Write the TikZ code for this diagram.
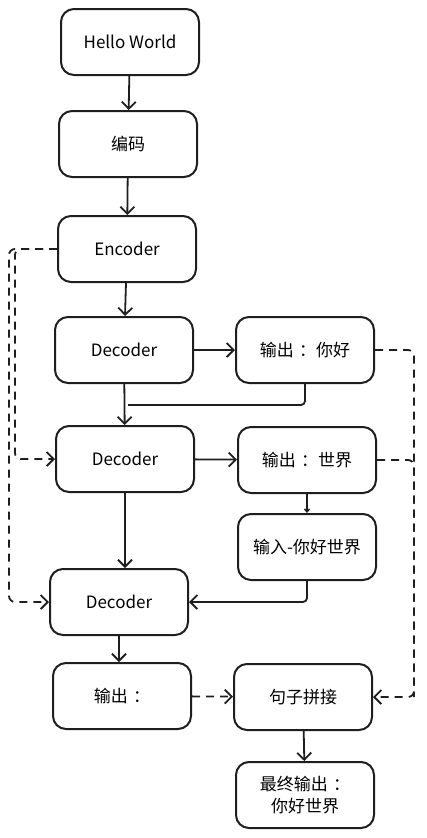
\documentclass[tikz,border=0pt]{standalone}
\usepackage{fontspec}
\setmainfont{Noto Sans CJK SC}
\usepackage{tikz}
\usetikzlibrary{arrows.meta, positioning, calc}
\usepackage{xcolor}
\definecolor{inkline}{HTML}{1E1E1E}

\begin{document}
\begin{tikzpicture}[x=1pt, y=-1pt,
  box/.style={rectangle, rounded corners=13pt, draw=inkline, line width=2pt,
    minimum width=138pt, minimum height=66pt, align=center, font=\fontsize{17}{22}\selectfont},
  arr/.style={draw=inkline, line width=1.8pt, -{Straight Barb[length=7pt, width=14pt, line width=1.8pt]}},
  dasharr/.style={arr, dash pattern=on 8pt off 6pt, rounded corners=6pt},
  dashline/.style={draw=inkline, line width=1.8pt, dash pattern=on 8pt off 6pt, rounded corners=6pt}]
\useasboundingbox (0,0) rectangle (427,838);

\node[box] (hello) at (130,42) {Hello World};
\node[box] (encode) at (128,144) {编码};
\node[box] (encoder) at (127,249) {Encoder};
\node[box] (dec1) at (124,350) {Decoder};
\node[box] (out1) at (305,350) {输出\hspace{0.3em}：你好};
\node[box] (dec2) at (125,459) {Decoder};
\node[box] (out2) at (307,460) {输出\hspace{0.3em}：世界};
\node[box] (input) at (307,547) {输入-你好世界};
\node[box] (dec3) at (119,602) {Decoder};
\node[box] (outA) at (122,696) {输出\hspace{0.3em}：};
\node[box] (concat) at (303,697) {句子拼接};
\node[box] (final) at (305,795) {最终输出\hspace{0.3em}：\\你好世界};

\coordinate (mergeA) at (128,405);
\coordinate (laneA) at (15,459);
\coordinate (laneB) at (9,602);
\coordinate (laneR) at (414,697);

\draw[arr] (hello) -- (encode);
\draw[arr] (encode) -- (encoder);
\draw[arr] (encoder) -- (dec1);
\draw[arr] (dec1) -- (out1);
\draw[arr] (dec1) -- (dec2);
\draw[draw=inkline, line width=1.8pt, rounded corners=4pt] (out1.south) |- (mergeA);
\draw[arr] (dec2) -- (out2);
\draw[draw=inkline, line width=1.8pt, -{Straight Barb[length=3pt, width=5pt, line width=1.4pt]}] (out2) -- (input);
\draw[arr] (dec2.south) -- (dec2.south |- dec3.north);
\draw[arr, rounded corners=4pt] (input.south) |- (dec3.east);
\draw[arr] (dec3.south) -- (dec3.south |- outA.north);
\draw[arr, dash pattern=on 8pt off 6pt] (outA) -- (concat);
\draw[arr] (concat) -- (final);

\draw[dasharr] (encoder.west) -| (laneA) -- (dec2.west);
\draw[dasharr] (encoder.west) -| (laneB) -- (dec3.west);
\draw[dasharr] (out1.east) -| (laneR) -- (concat.east);
\draw[dashline] (out2.east) -| (laneR);
\end{tikzpicture}
\end{document}
